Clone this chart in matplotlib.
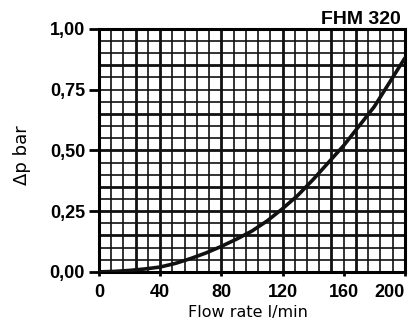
import numpy as np
import matplotlib
matplotlib.use("Agg")
import matplotlib.pyplot as plt

# curve (flow rate l/min -> pressure drop bar)
flow = [0, 10, 20, 30, 40, 50, 60, 70, 80, 90, 100,
        110, 120, 130, 140, 150, 160, 170, 180, 190, 200]
dp = [0.0, 0.002, 0.006, 0.012, 0.02, 0.035, 0.055, 0.078, 0.105, 0.135, 0.168,
      0.21, 0.26, 0.315, 0.38, 0.45, 0.52, 0.60, 0.68, 0.78, 0.88]

x_ticks = [0, 40, 80, 120, 160, 200]
y_ticks = [0.0, 0.25, 0.5, 0.75, 1.0]
y_labels = ["0,00", "0,25", "0,50", "0,75", "1,00"]

# grid lines (thin every 8 l/min and 0.05 bar, some heavier)
v_grid = np.arange(8, 200, 8)
h_grid = np.arange(0.05, 1.0, 0.05)
v_heavy = [24, 40, 80, 120, 152, 168]
h_heavy = [0.15, 0.25, 0.35, 0.5, 0.65, 0.85]

plt.rcParams['font.family'] = ['Liberation Sans', 'DejaVu Sans']

fig = plt.figure(figsize=(4.14, 3.21), dpi=100)
ax = fig.add_axes([0.239, 0.153, 0.739, 0.757])

for v in v_grid:
    lw = 2.0 if round(v) in v_heavy else 1.2
    ax.axvline(v, color='#111111', lw=lw, zorder=1)
for h in h_grid:
    lw = 2.0 if any(abs(h - k) < 1e-6 for k in h_heavy) else 1.2
    ax.axhline(h, color='#111111', lw=lw, zorder=1)

ax.plot(flow, dp, color='#111111', lw=2.6, zorder=3, solid_capstyle='round')

ax.set_xlim(0, 200)
ax.set_ylim(0, 1.0)
ax.set_xticks(x_ticks)
ax.set_xticklabels([str(t) for t in x_ticks], fontsize=13, fontweight='bold')
ax.get_xticklabels()[-1].set_horizontalalignment('right')
ax.get_xticklabels()[-1].set_x(0)
ax.set_yticks(y_ticks)
ax.set_yticklabels(y_labels, fontsize=13, fontweight='bold')
ax.tick_params(axis='x', direction='out', length=3, width=2, pad=6)
ax.tick_params(axis='y', direction='out', length=7, width=2, pad=3)

for s in ax.spines.values():
    s.set_linewidth(2.2)

ax.set_xlabel("Flow rate l/min", fontsize=11.5, family=['DejaVu Sans'])
ax.xaxis.set_label_coords(0.487, -0.135)
ax.set_ylabel("\u0394p bar", fontsize=13, family=['DejaVu Sans'])
ax.yaxis.set_label_coords(-0.222, 0.48)
ax.text(0.985, 1.005, "FHM 320", transform=ax.transAxes, ha='right', va='bottom',
        fontsize=14, fontweight='bold')

fig.savefig("out.png", dpi=100)
